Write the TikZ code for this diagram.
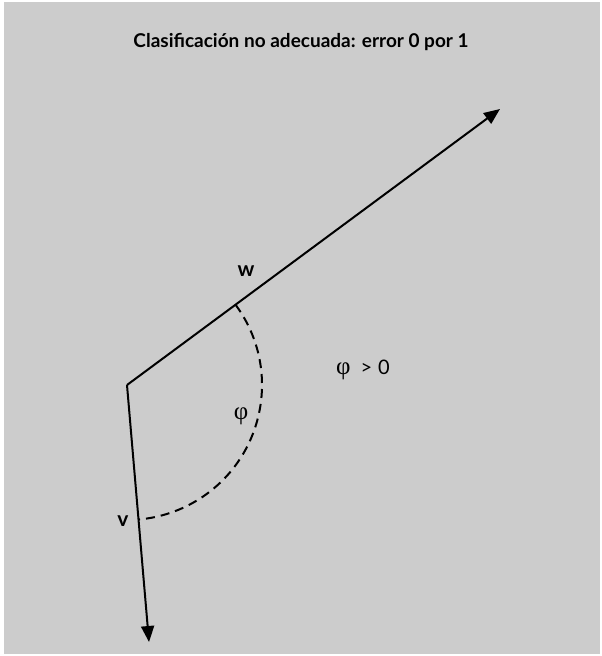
\documentclass[tikz,border=0pt]{standalone}
\usepackage{fontspec}
\setmainfont{Lato}
\newfontfamily\greekfont{Liberation Serif}
\usetikzlibrary{arrows.meta}
\definecolor{bggray}{RGB}{204,204,204}
\tikzset{
  vec/.style={line width=2pt, -{Triangle[length=16pt,width=13pt]}},
  arcline/.style={line width=2pt, dash pattern=on 9pt off 6pt},
  lbl/.style={inner sep=0pt, font=\fontsize{21}{23}\selectfont\bfseries},
  glbl/.style={inner sep=0pt, font=\fontsize{25}{27}\selectfont\greekfont},
}
\begin{document}
\begin{tikzpicture}[x=1pt,y=1pt]
\useasboundingbox (0,0) rectangle (602,-656);
\fill[white] (0,0) rectangle (602,-656);
\fill[bggray] (4,-2) rectangle (600,-654);
\node[inner sep=0pt, font=\fontsize{19}{21}\selectfont\bfseries] (title) at (301,-42) {Clasificación no adecuada: error 0 por 1};
\coordinate (O) at (127,-385);
\coordinate (W) at (500,-109);
\coordinate (V) at (149,-642);
\draw[vec] (O) -- (W);
\draw[vec] (O) -- (V);
\draw[arcline] ([shift={(36.5:135)}]O) arc[start angle=36.5, end angle=-85.3, radius=135];
\node[lbl] (wl) at (246,-271) {w};
\node[lbl] (vl) at (123,-521) {v};
\node[glbl] (phi) at (241,-416) {φ};
\node[inner sep=0pt, font=\fontsize{20}{22}\selectfont] (cond) at (363,-370) {{\greekfont\fontsize{25}{27}\selectfont φ}\hspace{10pt}>\hspace{6pt}0};
\end{tikzpicture}
\end{document}
